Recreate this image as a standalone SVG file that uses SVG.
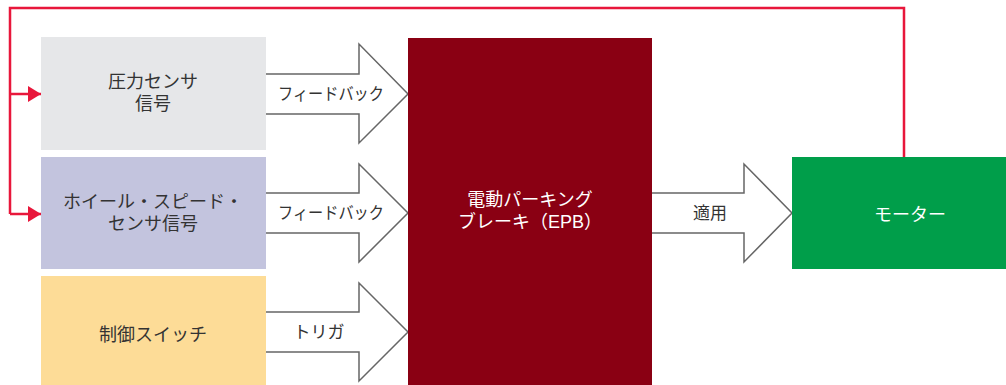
<svg xmlns="http://www.w3.org/2000/svg" width="1006" height="385" viewBox="0 0 1006 385">
<defs>
<style>
.t{font-family:"Liberation Sans","Noto Sans CJK JP",sans-serif;font-size:18px;fill:#333;text-anchor:middle}
.w{fill:#fff}
.l{font-size:17px}
.arr{fill:#fff;stroke:#666;stroke-width:1.5}
.fb{fill:none;stroke:#E8173B;stroke-width:2.5}
</style>
<marker id="rh" viewBox="0 0 13 16" refX="13" refY="8" markerWidth="13" markerHeight="16" markerUnits="userSpaceOnUse" orient="auto">
<path d="M0,0 L13,8 L0,16 Z" fill="#E8173B"/>
</marker>
</defs>
<rect width="1006" height="385" fill="#fff"/>
<g id="connectors">
<path class="arr" d="M266,74 H359 V44 L408,94 L359,143 V114 H266"/>
<path class="arr" d="M266,193 H359 V164 L408,213 L359,262 V233 H266"/>
<path class="arr" d="M266,312 H359 V283 L408,332 L359,381 V352 H266"/>
<path class="arr" d="M652,193 H744 V164 L792,213 L744,262 V233 H652"/>
<text class="t l" x="331" y="100" textLength="106" lengthAdjust="spacingAndGlyphs">フィードバック</text>
<text class="t l" x="331" y="219" textLength="106" lengthAdjust="spacingAndGlyphs">フィードバック</text>
<text class="t l" x="319" y="338">トリガ</text>
<text class="t l" x="710" y="219">適用</text>
<path class="fb" d="M904,157 V8 H10 V214"/>
<path class="fb" d="M10,94 H41" marker-end="url(#rh)"/>
<path class="fb" d="M10,214 H41" marker-end="url(#rh)"/>
</g>
<g id="pressure">
<rect x="41" y="37" width="225" height="113" fill="#E6E7E9"/>
<text class="t" x="153" y="88">圧力センサ<tspan x="153" dy="22">信号</tspan></text>
</g>
<g id="wheel">
<rect x="41" y="157" width="225" height="112" fill="#C3C4DE"/>
<text class="t" x="153" y="208">ホイール・スピード・<tspan x="153" dy="22">センサ信号</tspan></text>
</g>
<g id="switch">
<rect x="41" y="276" width="225" height="109" fill="#FDDC97"/>
<text class="t" x="153" y="341">制御スイッチ</text>
</g>
<g id="epb">
<rect x="408" y="38" width="244" height="347" fill="#8A0013"/>
<text class="t w" x="530" y="206">電動パーキング<tspan x="530" dy="22">ブレーキ（EPB）</tspan></text>
</g>
<g id="motor">
<rect x="792" y="157" width="214" height="112" fill="#009E4A"/>
<text class="t w" x="910" y="221">モーター</text>
</g>
</svg>
